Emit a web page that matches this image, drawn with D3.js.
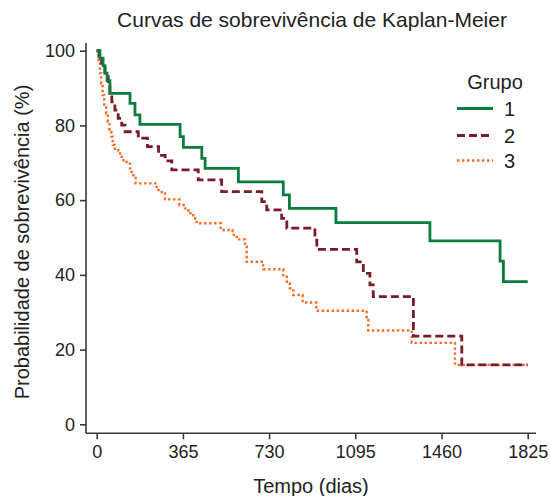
<!DOCTYPE html>
<html>
<head>
<meta charset="utf-8">
<script src="https://cdn.jsdelivr.net/npm/d3@7"></script>
<style>
  html, body { margin: 0; padding: 0; background: #fff; }
  svg text { font-family: "Liberation Sans", Arial, Helvetica, sans-serif; fill: #222; }
</style>
</head>
<body>
<svg id="chart" width="550" height="496"></svg>
<script>
// Kaplan-Meier survival estimates (time in days, survival in %)
const times1 = [0, 14, 27, 35, 44, 56, 141, 162, 183, 353, 367, 445, 459, 600, 790, 816, 1013, 1411, 1708, 1722, 1825];
const surv1  = [100, 98, 96, 94, 92, 88.6, 85.9, 82.8, 80.3, 77.0, 74.1, 71.2, 68.5, 64.9, 61.4, 57.8, 54.0, 49.1, 43.7, 38.2, 38.2];

const times2 = [0, 10, 21, 35, 49, 56, 64, 77, 91, 106, 120, 176, 215, 262, 290, 318, 430, 529, 699, 720, 783, 805, 924, 932, 1101, 1129, 1157, 1171, 1341, 1546, 1825];
const surv2  = [100, 98.5, 96.6, 94.0, 91.7, 88.6, 86.3, 84.1, 81.9, 80.1, 78.3, 76.6, 74.3, 72.0, 70.5, 68.1, 65.4, 62.3, 59.6, 57.4, 55.1, 52.5, 49.3, 46.8, 43.5, 40.4, 37.3, 34.2, 23.6, 15.9, 15.9];

const times3 = [0, 3, 8, 14, 19, 25, 32, 40, 47, 54, 62, 68, 77, 91, 106, 113, 141, 148, 155, 165, 254, 275, 289, 350, 374, 388, 409, 423, 525, 575, 593, 628, 635, 705, 790, 805, 818, 832, 872, 930, 1143, 1150, 1334, 1517, 1825];
const surv3  = [100, 99, 96.6, 94.0, 91.3, 88.1, 85.5, 83.2, 81.0, 78.8, 77.0, 74.8, 73.4, 72.5, 71.2, 70.2, 68.5, 67.2, 66.3, 64.5, 62.7, 61.8, 60.2, 58.7, 57.8, 56.5, 55.1, 53.8, 52.0, 50.7, 49.5, 47.5, 43.5, 41.5, 39.5, 37.7, 36.4, 34.6, 32.6, 30.4, 27.9, 25.1, 21.8, 15.9, 15.9];

const groupNames = ["1", "2", "3"];
const xTicks = [0, 365, 730, 1095, 1460, 1825];
const yTicks = [0, 20, 40, 60, 80, 100];

const colors = ["#0a7c3c", "#7a1b29", "#fb6a22"];
const dashes = [null, "8,4", "2.4,2.6"];
const widths = [2.8, 2.8, 2.4];

const series = [
  { name: groupNames[0], pts: times1.map((t, i) => [t, surv1[i]]) },
  { name: groupNames[1], pts: times2.map((t, i) => [t, surv2[i]]) },
  { name: groupNames[2], pts: times3.map((t, i) => [t, surv3[i]]) }
];

const svg = d3.select("#chart");

const x = d3.scaleLinear().domain([0, 1825]).range([96.7, 527.7]);
const y = d3.scaleLinear().domain([0, 100]).range([424.3, 50.7]);

const axisX0 = 86, axisY0 = 433.3;
const axisColor = "#3a3a3a";

// Axis lines
svg.append("line")
  .attr("x1", axisX0).attr("x2", axisX0)
  .attr("y1", 43).attr("y2", axisY0)
  .attr("stroke", axisColor).attr("stroke-width", 1.6);
svg.append("line")
  .attr("x1", axisX0).attr("x2", 536)
  .attr("y1", axisY0).attr("y2", axisY0)
  .attr("stroke", axisColor).attr("stroke-width", 1.6);

// Y axis
const gy = svg.append("g")
  .attr("transform", `translate(${axisX0},0)`)
  .call(d3.axisLeft(y).tickValues(yTicks).tickFormat(d3.format("d"))
    .tickSize(6).tickPadding(5).tickSizeOuter(0));
gy.select(".domain").remove();
gy.selectAll(".tick line").attr("stroke", axisColor).attr("stroke-width", 1.6);
gy.selectAll(".tick text").style("font-size", "18px").attr("fill", "#222");

// X axis
const gx = svg.append("g")
  .attr("transform", `translate(0,${axisY0})`)
  .call(d3.axisBottom(x).tickValues(xTicks).tickFormat(d3.format("d"))
    .tickSize(6).tickPadding(6).tickSizeOuter(0));
gx.select(".domain").remove();
gx.selectAll(".tick line").attr("stroke", axisColor).attr("stroke-width", 1.6);
gx.selectAll(".tick text").style("font-size", "18px").attr("fill", "#222");

// Survival curves (drawn so group 1 sits on top)
const line = d3.line()
  .x(d => x(d[0]))
  .y(d => y(d[1]))
  .curve(d3.curveStepAfter);

[2, 1, 0].forEach(i => {
  svg.append("path")
    .datum(series[i].pts)
    .attr("d", line)
    .attr("fill", "none")
    .attr("stroke", colors[i])
    .attr("stroke-width", widths[i])
    .attr("stroke-dasharray", dashes[i])
    .attr("stroke-linejoin", "miter");
});

// Titles
svg.append("text")
  .attr("x", 312).attr("y", 27)
  .attr("text-anchor", "middle")
  .style("font-size", "21px")
  .text("Curvas de sobrevivência de Kaplan-Meier");

svg.append("text")
  .attr("x", 311).attr("y", 493)
  .attr("text-anchor", "middle")
  .style("font-size", "20px")
  .text("Tempo (dias)");

svg.append("text")
  .attr("transform", "translate(29,242) rotate(-90)")
  .attr("text-anchor", "middle")
  .style("font-size", "20px")
  .text("Probabilidade de sobrevivência (%)");

// Legend
const legend = svg.append("g");
legend.append("text")
  .attr("x", 495).attr("y", 89)
  .attr("text-anchor", "middle")
  .style("font-size", "20px")
  .text("Grupo");

const rowY = [108.5, 135.5, 160.5];
series.forEach((s, i) => {
  legend.append("line")
    .attr("x1", 457).attr("x2", 493)
    .attr("y1", rowY[i]).attr("y2", rowY[i])
    .attr("stroke", colors[i])
    .attr("stroke-width", widths[i])
    .attr("stroke-dasharray", dashes[i]);
  legend.append("text")
    .attr("x", 504).attr("y", rowY[i] + 7)
    .style("font-size", "20px")
    .text(s.name);
});
</script>
</body>
</html>
